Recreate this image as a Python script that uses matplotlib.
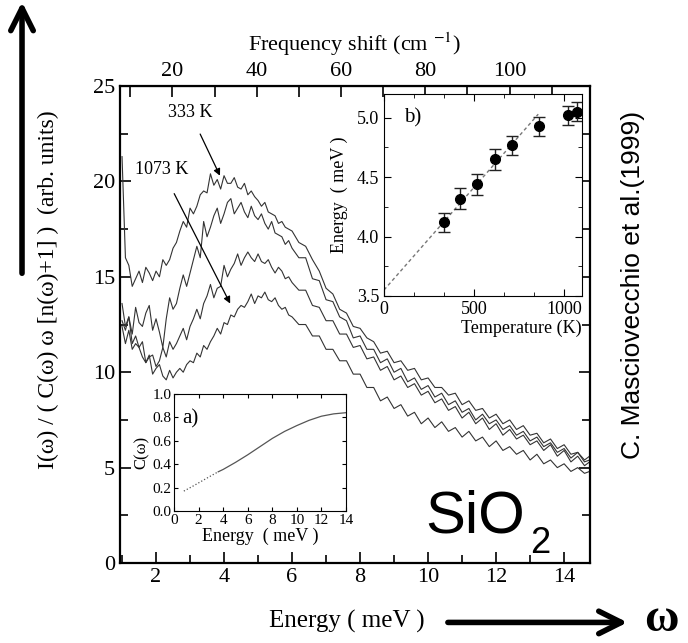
import numpy as np
import matplotlib.pyplot as plt
from matplotlib.ticker import MultipleLocator, FuncFormatter

plt.rcParams['font.family'] = ['Liberation Serif', 'DejaVu Serif']
plt.rcParams['mathtext.fontset'] = 'stix'

# spectra (energy in meV)
energy = [1.0, 1.1, 1.2, 1.3, 1.4, 1.5, 1.6, 1.7, 1.8, 1.9, 2.0, 2.1, 2.2, 2.3, 2.4, 2.5,
          2.6, 2.7, 2.8, 2.9, 3.0, 3.1, 3.2, 3.3, 3.4, 3.5, 3.6, 3.7, 3.8, 3.9, 4.0, 4.1,
          4.2, 4.3, 4.4, 4.5, 4.6, 4.7, 4.8, 4.9, 5.0, 5.1, 5.2, 5.3, 5.4, 5.5, 5.6, 5.7,
          5.8, 5.9, 6.0,
          6.2, 6.4, 6.6, 6.8, 7.0, 7.2, 7.4, 7.6, 7.8, 8.0, 8.2, 8.4, 8.6, 8.8, 9.0, 9.2,
          9.4, 9.6, 9.8, 10.0, 10.2, 10.4, 10.6, 10.8, 11.0, 11.2, 11.4, 11.6, 11.8, 12.0,
          12.2, 12.4, 12.6, 12.8, 13.0, 13.2, 13.4, 13.6, 13.8, 14.0, 14.2, 14.4, 14.6, 14.75]
spec_333 = [21.3, 16.0, 15.6, 14.5, 14.9, 15.3, 14.7, 15.5, 15.2, 14.8, 15.3, 15.0, 15.9,
            15.6, 15.9, 16.5, 16.8, 17.4, 17.9, 17.6, 18.6, 18.3, 18.7, 19.3, 19.5, 19.4,
            20.4, 19.8, 20.1, 19.6, 20.3, 19.9, 19.9, 20.2, 19.7, 19.6, 19.9, 19.3, 19.5,
            19.2, 19.0, 18.7, 18.9, 18.4, 18.3, 18.2, 17.8, 17.9, 17.6, 17.5, 17.4,
            16.8, 16.6, 15.9, 15.3, 14.4, 14.1, 13.3, 13.1, 12.4, 12.3, 11.8, 11.6, 11.0,
            11.1, 10.5, 10.6, 10.1, 10.2, 9.6, 9.7, 9.2, 9.2, 8.8, 8.9, 8.3, 8.5, 8.0, 8.1,
            7.6, 7.8, 7.3, 7.5, 7.0, 7.2, 6.7, 6.8, 6.3, 6.5, 6.0, 6.2, 5.7, 5.8, 5.4, 5.6]
spec_b = [13.6, 12.4, 12.9, 12.0, 13.4, 12.6, 12.4, 13.1, 13.5, 12.2, 12.8, 12.1, 11.3,
          12.8, 13.9, 13.3, 13.6, 14.4, 15.1, 14.5, 15.2, 15.9, 16.6, 16.0, 17.9, 17.1,
          17.6, 18.2, 18.6, 17.8, 18.3, 18.9, 19.1, 18.3, 18.6, 18.9, 18.4, 18.1, 18.7,
          18.2, 18.0, 18.3, 17.8, 17.5, 17.9, 17.3, 17.2, 17.1, 16.7, 16.9, 16.5,
          16.0, 16.0, 14.9, 14.8, 13.8, 13.7, 12.9, 12.7, 11.8, 11.9, 11.2, 11.2, 10.5,
          10.7, 10.0, 10.2, 9.5, 9.7, 9.1, 9.3, 8.7, 8.9, 8.3, 8.5, 7.9, 8.1, 7.5, 7.8,
          7.3, 7.5, 7.0, 7.2, 6.7, 6.9, 6.4, 6.6, 6.1, 6.3, 5.8, 6.0, 5.5, 5.8, 5.3, 5.4]
spec_c = [12.7, 12.2, 12.9, 11.5, 11.9, 11.3, 11.6, 10.5, 10.8, 10.9, 10.3, 10.6, 11.3,
          10.8, 11.6, 11.2, 11.5, 11.9, 12.3, 11.7, 12.4, 12.8, 13.3, 12.8, 13.6, 14.0,
          14.6, 13.9, 14.4, 14.5, 15.6, 15.0, 15.4, 15.7, 16.2, 15.6, 16.0, 16.3, 16.0,
          15.8, 16.2, 15.8, 15.7, 15.9, 15.5, 15.2, 15.5, 15.3, 14.9, 15.0, 14.7,
          14.3, 14.3, 13.5, 13.4, 12.7, 12.7, 12.0, 12.0, 11.3, 11.4, 10.7, 10.8, 10.1,
          10.3, 9.6, 9.8, 9.2, 9.4, 8.8, 9.0, 8.4, 8.6, 8.0, 8.2, 7.6, 7.9, 7.3, 7.6,
          7.0, 7.3, 6.7, 7.0, 6.5, 6.7, 6.2, 6.4, 5.9, 6.2, 5.6, 5.9, 5.3, 5.6, 5.1, 5.3]
spec_1073 = [12.4, 11.5, 12.2, 11.2, 11.5, 11.3, 10.8, 10.5, 10.9, 9.9, 10.2, 10.4, 9.8,
             9.6, 10.1, 9.7, 10.0, 10.2, 10.0, 10.4, 10.6, 10.5, 11.0, 10.8, 11.4, 11.2,
             11.6, 11.9, 12.3, 12.0, 12.6, 12.5, 13.0, 12.9, 13.3, 13.5, 13.4, 13.7, 14.1,
             13.6, 14.0, 13.9, 14.2, 13.8, 13.7, 13.9, 13.5, 13.3, 13.4, 13.0, 12.9,
             12.5, 12.5, 11.9, 11.9, 11.2, 11.2, 10.6, 10.6, 9.9, 9.9, 9.2, 9.2, 8.5, 8.7,
             8.1, 8.3, 7.7, 7.9, 7.3, 7.6, 7.1, 7.4, 6.9, 7.1, 6.6, 6.9, 6.4, 6.6, 6.1, 6.4,
             5.9, 6.1, 5.7, 5.9, 5.4, 5.7, 5.2, 5.4, 5.0, 5.2, 4.8, 5.0, 4.7, 4.8]

# inset b: peak energy vs temperature
temps = [333, 423, 516, 615, 714, 863, 1020, 1073]
peak_e = [4.12, 4.32, 4.44, 4.65, 4.77, 4.93, 5.02, 5.05]
peak_err = [0.08, 0.09, 0.09, 0.09, 0.08, 0.08, 0.08, 0.08]
fit_t = [0, 857]
fit_e = [3.55, 5.03]

# inset a: C(omega)
c_e_dot = [0.8, 1.5, 2.0, 2.5, 3.0, 3.6]
c_dot = [0.17, 0.21, 0.24, 0.27, 0.30, 0.335]
c_e_line = [3.6, 4, 5, 6, 7, 8, 9, 10, 11, 12, 13, 14]
c_line = [0.335, 0.355, 0.415, 0.48, 0.55, 0.62, 0.68, 0.73, 0.775, 0.81, 0.83, 0.84]

MEV_TO_CM = 8.0655
line_col = '#333333'

fig = plt.figure(figsize=(6.88, 6.43), dpi=100)
ax = fig.add_axes([0.1744, 0.1244, 0.6831, 0.7418])
for s in [spec_333, spec_b, spec_c, spec_1073]:
    ax.plot(energy, s, color=line_col, lw=0.8)
ax.set_xlim(0.94, 14.76)
ax.set_ylim(0, 25)
ax.xaxis.set_major_locator(MultipleLocator(2))
ax.xaxis.set_minor_locator(MultipleLocator(1))
ax.yaxis.set_major_locator(MultipleLocator(5))
ax.yaxis.set_minor_locator(MultipleLocator(2.5))
ax.tick_params(which='both', direction='in', labelsize=16, right=True, top=False)
ax.tick_params(which='major', length=8, width=1.2)
ax.tick_params(which='minor', length=6, width=1.2)
for sp in ax.spines.values():
    sp.set_linewidth(1.6)

ax.set_xlabel('Energy ( meV )', fontsize=18)
ax.xaxis.set_label_coords(0.483, -0.098)
ax.set_ylabel('I(ω) / ( C(ω) ω [n(ω)+1] )  (arb. units)', fontsize=17)
ax.yaxis.set_label_coords(-0.13, 0.572)

top = ax.secondary_xaxis('top', functions=(lambda e: e * MEV_TO_CM, lambda k: k / MEV_TO_CM))
top.xaxis.set_major_locator(MultipleLocator(20))
top.xaxis.set_minor_locator(MultipleLocator(10))
top.tick_params(which='both', direction='in', labelsize=16, length=8, width=1.2)
top.set_xlabel('Frequency shift (cm $^{-1}$)', fontsize=16, labelpad=8)

ax.annotate('333 K', xy=(3.88, 20.3), xytext=(3.0, 23.6), fontsize=13, ha='center', va='center',
            arrowprops=dict(arrowstyle='-|>', color='k', lw=0.9, mutation_scale=10, shrinkA=8, shrinkB=0))
ax.annotate('1073 K', xy=(4.18, 13.6), xytext=(2.18, 20.6), fontsize=13, ha='center', va='center',
            arrowprops=dict(arrowstyle='-|>', color='k', lw=0.9, mutation_scale=10, shrinkA=10, shrinkB=0))

ax.text(0.649, 0.063, 'SiO', transform=ax.transAxes, fontsize=43,
        family='Liberation Sans', ha='left', va='baseline')
ax.text(0.872, 0.021, '2', transform=ax.transAxes, fontsize=26,
        family='Liberation Sans', ha='left', va='baseline')

# inset b
axb = fig.add_axes([0.5581, 0.5397, 0.2878, 0.3141])
axb.plot(fit_t, fit_e, color='#777777', lw=1, dashes=(2.5, 2))
axb.errorbar(temps, peak_e, yerr=peak_err, fmt='o', color='k', ms=7,
             ecolor='#222222', elinewidth=1, capsize=4, capthick=1)
axb.set_xlim(0, 1100)
axb.set_ylim(3.5, 5.2)
axb.xaxis.set_major_locator(MultipleLocator(500))
axb.xaxis.set_minor_locator(MultipleLocator(500 / 3))
axb.yaxis.set_major_locator(MultipleLocator(0.5))
axb.yaxis.set_minor_locator(MultipleLocator(0.25))
axb.yaxis.set_major_formatter(FuncFormatter(lambda v, p: f'{v:.1f}'))
axb.tick_params(which='both', direction='in', labelsize=13, top=True, right=True)
axb.tick_params(which='major', length=5)
axb.tick_params(which='minor', length=3)
axb.set_xlabel('Temperature (K)', fontsize=13, loc='right', labelpad=1)
axb.set_ylabel('Energy  ( meV )', fontsize=13, labelpad=6)
axb.text(0.1, 0.88, 'b)', transform=axb.transAxes, fontsize=15, va='center')

# inset a
axa = fig.add_axes([0.2529, 0.2053, 0.25, 0.182])
axa.plot(c_e_dot, c_dot, color='#555555', lw=0.9, ls=':')
axa.plot(c_e_line, c_line, color='#555555', lw=0.9)
axa.set_xlim(0, 14)
axa.set_ylim(0, 1.0)
axa.xaxis.set_major_locator(MultipleLocator(2))
axa.yaxis.set_major_locator(MultipleLocator(0.2))
axa.yaxis.set_major_formatter(FuncFormatter(lambda v, p: f'{v:.1f}'))
axa.tick_params(which='both', direction='in', labelsize=11, top=True, right=True, length=3, pad=2)
axa.set_xlabel('Energy  ( meV )', fontsize=13, labelpad=1)
axa.set_ylabel('C(ω)', fontsize=12, labelpad=2)
axa.text(0.05, 0.79, 'a)', transform=axa.transAxes, fontsize=15, va='center')

# decorations outside the axes
fig.text(0.920, 0.557, 'C. Masciovecchio et al.(1999)', rotation=90, fontsize=19,
         family='Liberation Sans', ha='center', va='center')
ax.annotate('', xy=(0.032, 0.997), xytext=(0.032, 0.575), xycoords='figure fraction',
            textcoords='figure fraction', annotation_clip=False,
            arrowprops=dict(arrowstyle='->,head_length=0.9,head_width=0.45', lw=4, color='k',
                            mutation_scale=18, shrinkA=0, shrinkB=0))
ax.annotate('', xy=(0.912, 0.032), xytext=(0.651, 0.032), xycoords='figure fraction',
            textcoords='figure fraction', annotation_clip=False,
            arrowprops=dict(arrowstyle='->,head_length=0.9,head_width=0.45', lw=4, color='k',
                            mutation_scale=18, shrinkA=0, shrinkB=0))
fig.text(0.962, 0.036, 'ω', fontsize=34, fontweight='bold', ha='center', va='center')

fig.savefig('out.png', dpi=100)
